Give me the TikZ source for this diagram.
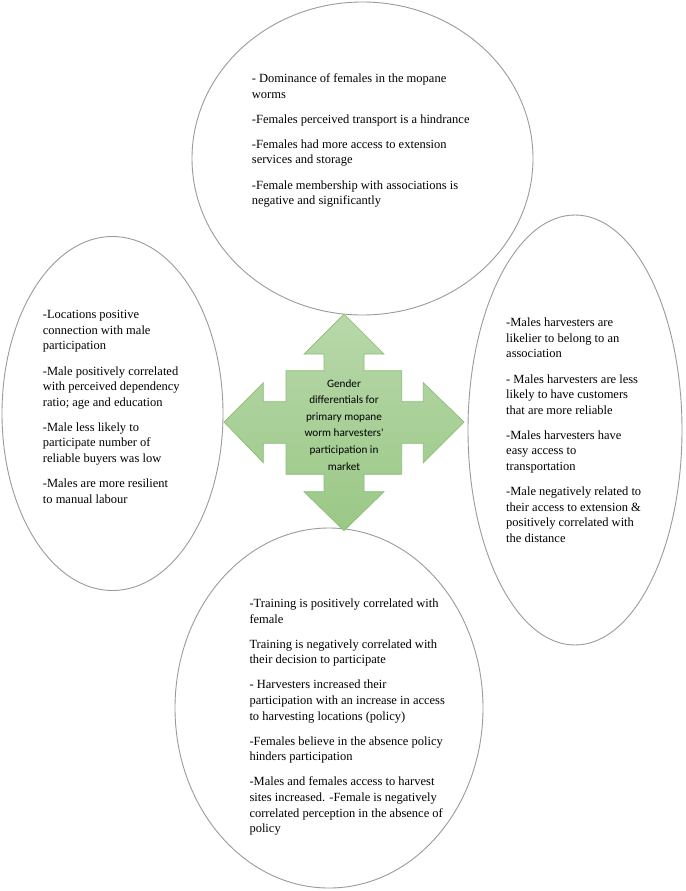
\documentclass[tikz,border=0pt]{standalone}
\usepackage{fontspec}
\setmainfont{Liberation Serif}
\newfontfamily\bodyserif{Liberation Serif}
\newfontfamily\calibfont{Carlito}
\usetikzlibrary{shapes.geometric}
\definecolor{ellline}{RGB}{155,155,155}
\definecolor{arrtop}{RGB}{184,216,170}
\definecolor{arrbot}{RGB}{154,200,134}
\definecolor{arrline}{RGB}{140,190,118}
\newcommand\firststrut{\rule{0pt}{11pt}}
\begin{document}
\begin{tikzpicture}[x=1pt,y=-1pt,
  bubble/.style={draw=ellline, line width=0.9pt, ellipse, inner sep=0pt},
  btext/.style={anchor=north west, inner sep=0pt, align=left, font=\bodyserif\fontsize{12.5}{15.6}\selectfont},
  ctext/.style={align=center, inner sep=0pt, font=\calibfont\fontsize{11.2}{16.6}\selectfont}]
\fill[white] (0,0) rectangle (685,891);
\useasboundingbox (0,0) rectangle (685,891);

\node[bubble, minimum width=341pt, minimum height=313pt] (top) at (362.5,158.5) {};
\node[bubble, minimum width=221pt, minimum height=354pt] (left) at (112.5,413.5) {};
\node[bubble, minimum width=214pt, minimum height=430pt] (right) at (575,430) {};
\node[bubble, minimum width=308pt, minimum height=360pt] (bottom) at (329,708) {};

\shade[top color=arrtop, bottom color=arrbot, draw=arrline, line width=0.7pt]
 (344,314) -- (384,354) -- (364,354) -- (364,370.7) -- (401.7,370.7) -- (401.7,401.7)
 -- (423.3,401.7) -- (423.3,382.7) -- (464,422) -- (423.3,462.7) -- (423.3,443.3)
 -- (401.7,443.3) -- (401.7,474.3) -- (364,474.3) -- (364,491.7) -- (384,491.7)
 -- (344,530.7) -- (304,491.7) -- (324,491.7) -- (324,474.3) -- (286,474.3)
 -- (286,443.3) -- (263.3,443.3) -- (263.3,462.7) -- (224,422) -- (263.3,382.7)
 -- (263.3,401.7) -- (286,401.7) -- (286,370.7) -- (324,370.7) -- (324,354)
 -- (304,354) -- cycle;

\node[ctext] (centre) at (344,424.7) {Gender\\differentials for\\primary mopane\\worm harvesters'\\participation in\\market};

\node[btext] (toptext) at (251.7,71.3) {\firststrut- Dominance of females in the mopane\\worms\\[9.5pt]
-Females perceived transport is a hindrance\\[9.5pt]
-Females had more access to extension\\services and storage\\[9.5pt]
-Female membership with associations is\\negative and significantly};

\node[btext] (lefttext) at (42.7,307.5) {\firststrut-Locations positive\\connection with male\\participation\\[9.5pt]
-Male positively correlated\\with perceived dependency\\ratio; age and education\\[9.5pt]
-Male less likely to\\participate number of\\reliable buyers was low\\[9.5pt]
-Males are more resilient\\to manual labour};

\node[btext] (righttext) at (506,315.5) {\firststrut-Males harvesters are\\likelier to belong to an\\association\\[9.5pt]
- Males harvesters are less\\likely to have customers\\that are more reliable\\[9.5pt]
-Males harvesters have\\easy access to\\transportation\\[9.5pt]
-Male negatively related to\\their access to extension \&\\positively correlated with\\the distance};

\node[btext] (bottomtext) at (249.3,596.3) {\firststrut-Training is positively correlated with\\female\\[9.5pt]
Training is negatively correlated with\\their decision to participate\\[9.5pt]
- Harvesters increased their\\participation with an increase in access\\to harvesting locations (policy)\\[9.5pt]
-Females believe in the absence policy\\hinders participation\\[9.5pt]
-Males and females access to harvest\\sites increased. -Female is negatively\\correlated perception in the absence of\\policy};
\end{tikzpicture}
\end{document}
